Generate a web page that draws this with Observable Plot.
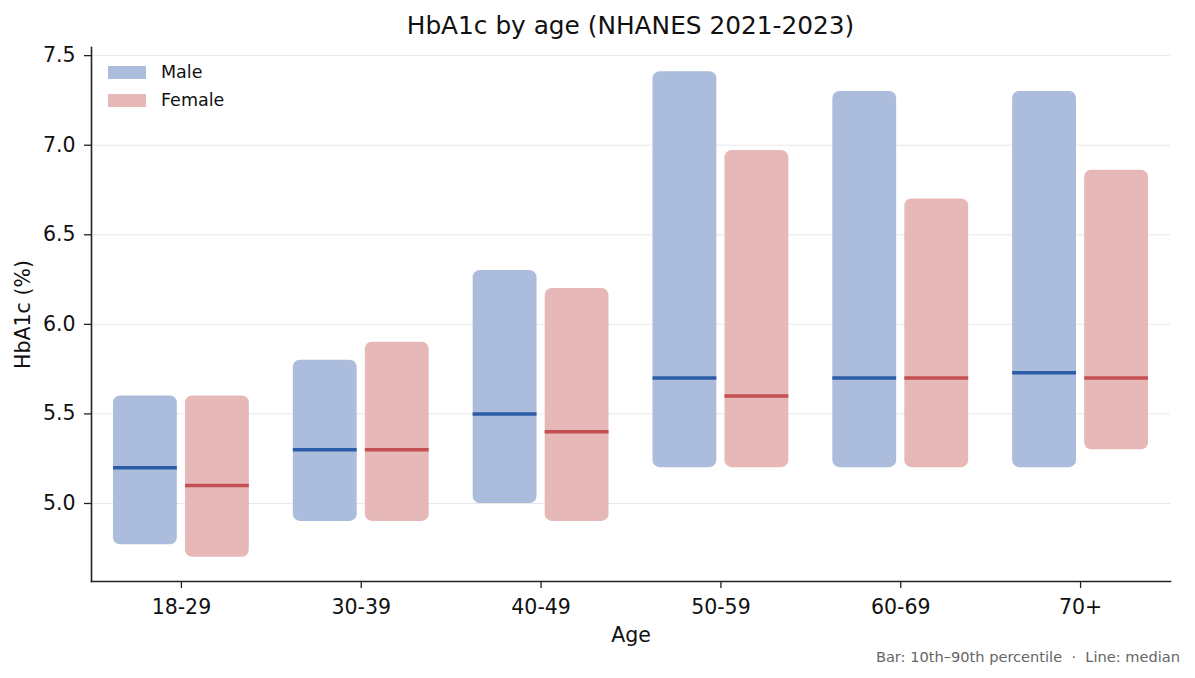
<!DOCTYPE html>
<html>
<head>
<meta charset="utf-8">
<script src="https://cdn.jsdelivr.net/npm/d3@7"></script>
<script src="https://cdn.jsdelivr.net/npm/@observablehq/plot@0.6"></script>
<style>
  body { margin: 0; background: #fff; font-family: "DejaVu Sans", sans-serif; }
  #wrap { position: relative; width: 1195px; height: 678px; overflow: hidden; }
  #title { position: absolute; left: 91px; width: 1079px; top: 11px; text-align: center; font-size: 24.8px; color: #111; line-height: 30px; }
  #chart { position: absolute; left: 0; top: 40px; }
  #legend { position: absolute; left: 108px; top: 58px; font-size: 17.5px; color: #111; }
  .item { display: flex; align-items: center; height: 28px; }
  .sw { width: 38px; height: 13px; margin-right: 15px; }
  #caption { position: absolute; right: 15px; top: 648px; font-size: 14.6px; color: #666; white-space: pre; }
</style>
</head>
<body>
<div id="wrap">
  <div id="title">HbA1c by age (NHANES 2021-2023)</div>
  <div id="chart"></div>
  <div id="legend"></div>
  <div id="caption">Bar: 10th–90th percentile  ·  Line: median</div>
</div>
<script>
const ages = ["18-29", "30-39", "40-49", "50-59", "60-69", "70+"];
const maleP10 = [4.77, 4.9, 5.0, 5.2, 5.2, 5.2];
const maleP90 = [5.6, 5.8, 6.3, 7.41, 7.3, 7.3];
const maleMedian = [5.2, 5.3, 5.5, 5.7, 5.7, 5.73];
const femaleP10 = [4.7, 4.9, 4.9, 5.2, 5.2, 5.3];
const femaleP90 = [5.6, 5.9, 6.2, 6.97, 6.7, 6.86];
const femaleMedian = [5.1, 5.3, 5.4, 5.6, 5.7, 5.7];
const yTicks = [5.0, 5.5, 6.0, 6.5, 7.0, 7.5];
const series = ["Male", "Female"];
const barColors = ["#abbcdc", "#e6b8b8"];
const lineColors = ["#2c5ca8", "#c44e52"];

const male = ages.map((a, i) => ({age: a, lo: maleP10[i], hi: maleP90[i], med: maleMedian[i]}));
const female = ages.map((a, i) => ({age: a, lo: femaleP10[i], hi: femaleP90[i], med: femaleMedian[i]}));

const chart = Plot.plot({
  width: 1195,
  height: 610,
  marginTop: 7,
  marginBottom: 69,
  marginLeft: 91,
  marginRight: 25,
  style: {fontFamily: "DejaVu Sans, sans-serif", fontSize: "20.5px", color: "#111", background: "transparent"},
  x: {domain: ages, padding: 0, round: false},
  y: {domain: [4.5645, 7.5455]},
  marks: [
    Plot.gridY(yTicks, {stroke: "#e8e8e8", strokeOpacity: 1, strokeWidth: 1}),
    Plot.barY(male, {x: "age", y1: "lo", y2: "hi", fill: barColors[0], insetLeft: 22, insetRight: 94, rx: 7}),
    Plot.barY(female, {x: "age", y1: "lo", y2: "hi", fill: barColors[1], insetLeft: 94, insetRight: 22, rx: 7}),
    Plot.tickY(male, {x: "age", y: "med", stroke: lineColors[0], strokeWidth: 3.5, insetLeft: 22, insetRight: 94}),
    Plot.tickY(female, {x: "age", y: "med", stroke: lineColors[1], strokeWidth: 3.5, insetLeft: 94, insetRight: 22}),
    Plot.axisY(yTicks, {tickFormat: d3.format(".1f"), tickSize: 7, tickPadding: 9, stroke: "#222", strokeWidth: 1.3,
      fontSize: 20.5, label: "HbA1c (%)", labelAnchor: "center", labelArrow: "none", labelOffset: 76}),
    Plot.axisX({tickSize: 7, tickPadding: 11, stroke: "#222", strokeWidth: 1.3, fontSize: 20.5,
      label: "Age", labelAnchor: "center", labelArrow: "none", labelOffset: 60}),
    Plot.frame({anchor: "left", stroke: "#222", strokeWidth: 1.6}),
    Plot.frame({anchor: "bottom", stroke: "#222", strokeWidth: 1.6})
  ]
});
document.getElementById("chart").appendChild(chart);

const legend = document.getElementById("legend");
series.forEach((s, i) => {
  const item = document.createElement("div");
  item.className = "item";
  const sw = document.createElement("span");
  sw.className = "sw";
  sw.style.background = barColors[i];
  const t = document.createElement("span");
  t.textContent = s;
  item.appendChild(sw);
  item.appendChild(t);
  legend.appendChild(item);
});
</script>
</body>
</html>
